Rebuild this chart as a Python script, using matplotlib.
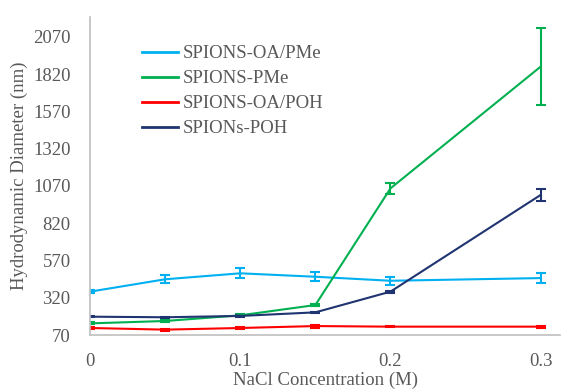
import matplotlib
matplotlib.use('Agg')
import matplotlib.pyplot as plt
from matplotlib.lines import Line2D

# NaCl concentration (M)
nacl = [0, 0.05, 0.1, 0.15, 0.2, 0.3]

oa_pme = [361, 444, 484, 461, 434, 452]
oa_pme_err = [10, 27, 34, 29, 26, 36]

pme = [148, 164, 202, 271, 1054, 1871]
pme_err = [6, 6, 6, 8, 38, 260]

oa_poh = [117, 106, 117, 130, 126, 126]
oa_poh_err = [10, 6, 8, 10, 5, 6]

poh = [193, 189, 198, 222, 361, 1010]
poh_err = [4, 4, 4, 4, 6, 39]

series = [
    ('SPIONS-OA/PMe', oa_pme, oa_pme_err, '#00b0f0'),
    ('SPIONS-PMe', pme, pme_err, '#00b050'),
    ('SPIONS-OA/POH', oa_poh, oa_poh_err, '#ff0000'),
    ('SPIONs-POH', poh, poh_err, '#1f3470'),
]

yticks = [70, 320, 570, 820, 1070, 1320, 1570, 1820, 2070]
xticks = [0, 0.1, 0.2, 0.3]
xticklabels = ['0', '0.1', '0.2', '0.3']

plt.rcParams['font.family'] = ['Liberation Serif', 'DejaVu Serif']

fig = plt.figure(figsize=(5.63, 3.92), dpi=100)
ax = fig.add_axes([0.160, 0.1454, 0.835, 0.8112])

handles = []
for label, vals, err, color in series:
    ax.errorbar(nacl, vals, yerr=err, color=color, linewidth=1.5,
                capsize=3.5, capthick=1.5, elinewidth=1.5)
    handles.append(Line2D([], [], color=color, linewidth=2, label=label))

ax.set_xlim(0, 0.313)
ax.set_ylim(70, 2204)
ax.set_yticks(yticks)
ax.set_xticks(xticks)
ax.set_xticklabels(xticklabels)

for side in ['top', 'right']:
    ax.spines[side].set_visible(False)
for side in ['left', 'bottom']:
    ax.spines[side].set_color('#bfbfbf')
    ax.spines[side].set_linewidth(1.2)

ax.tick_params(length=0, labelsize=13.5, labelcolor='#595959')
ax.tick_params(axis='x', pad=13)
ax.tick_params(axis='y', pad=14)

ax.set_xlabel('NaCl Concentration (M)', fontsize=13.5, color='#595959', labelpad=1)
ax.set_ylabel('Hydrodynamic Diameter (nm)', fontsize=13.5, color='#595959', labelpad=4)

ax.legend(handles=handles, loc='upper left', bbox_to_anchor=(0.075, 0.965),
          frameon=False, fontsize=13.5, handlelength=1.9, handletextpad=0.25,
          labelspacing=0.42, labelcolor='#595959')

fig.savefig('out.png', dpi=100)
